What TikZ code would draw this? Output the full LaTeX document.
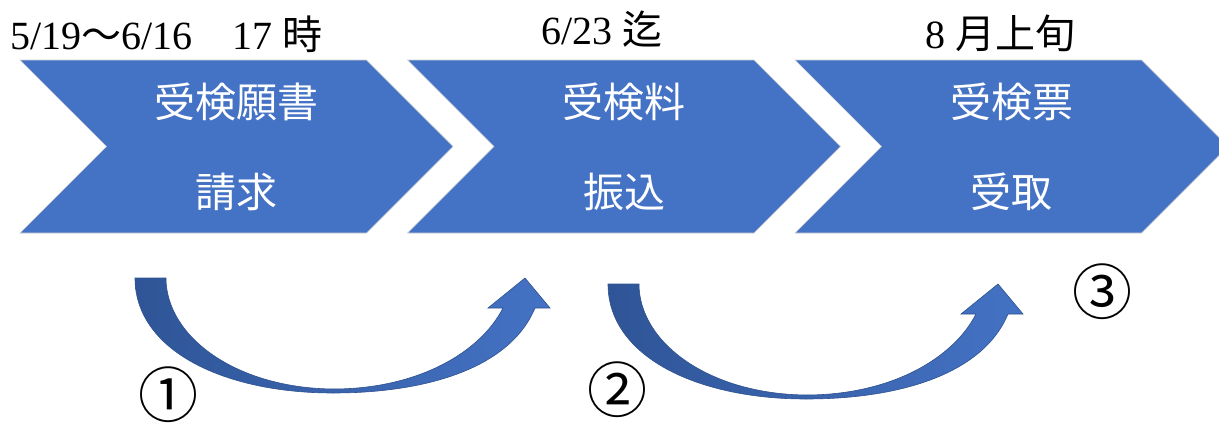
\documentclass[tikz,border=0pt]{standalone}
\usepackage{fontspec}
\setmainfont{Liberation Serif}
\newfontfamily\jp{Noto Sans CJK JP}
\usetikzlibrary{shapes.symbols}
\definecolor{chevblue}{HTML}{4472C4}
\definecolor{arrowdark}{HTML}{2F5597}
\definecolor{arrowline}{HTML}{2F528F}
\tikzstyle{chev} = [signal, signal from=west, signal to=east, draw=gray!35, line width=0.6pt,
	fill=chevblue, minimum width=433pt, minimum height=173pt, inner sep=0pt,
	text=white, align=center, font=\jp\fontsize{41}{90}\selectfont]
\tikzstyle{datelabel} = [font=\fontsize{40}{42}\selectfont, inner sep=0pt]
\tikzstyle{turnarrow} = [left color=arrowdark, right color=chevblue, draw=arrowline, line width=0.6pt]
\tikzstyle{num} = [font=\jp\fontsize{60}{60}\selectfont, inner sep=0pt, text height=50pt, text depth=0pt]

\begin{document}
\begin{tikzpicture}[x=1pt, y=-1pt, node distance=387.5pt]
		\clip (0,0) rectangle (1219,426);
		%Place node
		\node [chev] (apply) at (236.5,146.5) {受検願書\\請求};
		\node [chev, right of=apply] (pay) {受検料\\振込};
		\node [chev, right of=pay] (ticket) {受検票\\受取};
		
		%Dates
		\node [datelabel, anchor=base west] (d1) at (10,49) {5/19{\jp ～}6/16{\jp 　}17 {\jp 時}};
		\node [datelabel, anchor=base] (d2) at (602,44) {6/23 {\jp 迄}};
		\node [datelabel, anchor=base] (d3) at (1000,48) {8 {\jp 月上旬}};
		
		%Curved arrows
		\foreach \ox/\oy in {135/278, 608/284}
			\path [turnarrow, shift={(\ox,\oy)}] (0,0) -- (31,0)
				.. controls (31,58) and (100,110) .. (198,111)
				.. controls (282,111) and (345,75) .. (368,30)
				-- (353,30) -- (390,0) -- (415,30) -- (400,30)
				.. controls (375,90) and (292,115) .. (198,115)
				.. controls (88,115) and (0,72) .. (0,0) -- cycle;
		
		\node [num] (n1) at (168,392) {①};
		\node [num] (n2) at (617,387) {②};
		\node [num] (n3) at (1102,289) {③};
		
	\end{tikzpicture}
\end{document}
